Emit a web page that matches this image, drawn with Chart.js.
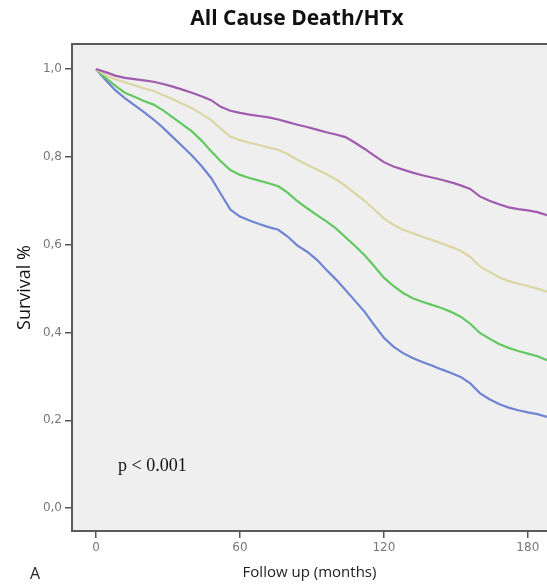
<!DOCTYPE html>
<html>
<head>
<meta charset="utf-8">
<script src="https://cdn.jsdelivr.net/npm/chart.js@4/dist/chart.umd.min.js"></script>
<style>
  body{margin:0;background:#fff;}
  canvas{display:block;}
</style>
</head>
<body>
<canvas id="grafico" width="547" height="588"></canvas>
<script>
// follow up time (months) and survival per group
const meses = [0,4,8,12,16,20,24,28,32,36,40,44,48,52,56,60,64,68,72,76,80,84,88,92,96,100,104,108,112,116,120,124,128,132,136,140,144,148,152,156,160,164,168,172,176,180,184,188];

const roxo = [1.000,0.993,0.985,0.980,0.977,0.974,0.971,0.966,0.960,0.953,0.946,0.938,0.929,0.914,0.905,0.900,0.896,0.893,0.890,0.885,0.879,0.873,0.868,0.862,0.856,0.851,0.845,0.832,0.818,0.803,0.788,0.778,0.771,0.764,0.758,0.753,0.748,0.742,0.735,0.727,0.710,0.700,0.692,0.685,0.681,0.678,0.674,0.667];
const bege = [1.000,0.986,0.977,0.970,0.963,0.956,0.950,0.941,0.931,0.921,0.911,0.898,0.884,0.864,0.846,0.838,0.832,0.827,0.821,0.816,0.806,0.793,0.782,0.772,0.761,0.749,0.734,0.717,0.700,0.680,0.660,0.645,0.634,0.626,0.618,0.611,0.603,0.595,0.586,0.572,0.551,0.538,0.526,0.517,0.511,0.506,0.500,0.493];
const verde = [1.000,0.980,0.962,0.946,0.937,0.927,0.919,0.906,0.890,0.874,0.858,0.837,0.813,0.790,0.770,0.759,0.752,0.746,0.740,0.733,0.718,0.699,0.683,0.668,0.653,0.637,0.617,0.597,0.576,0.551,0.525,0.506,0.490,0.478,0.470,0.463,0.456,0.447,0.436,0.420,0.399,0.386,0.374,0.365,0.358,0.352,0.346,0.337];
const azul = [1.000,0.975,0.952,0.934,0.918,0.902,0.885,0.866,0.845,0.824,0.803,0.779,0.752,0.716,0.680,0.664,0.655,0.647,0.640,0.634,0.618,0.598,0.584,0.566,0.543,0.521,0.497,0.472,0.447,0.417,0.388,0.368,0.353,0.342,0.333,0.325,0.316,0.308,0.299,0.284,0.262,0.248,0.237,0.229,0.223,0.218,0.214,0.208];

const ticksX = [0,60,120,180];
const ticksY = [0,0.2,0.4,0.6,0.8,1.0];

function serie(vals){
  return vals.map((v,i)=>({x:meses[i], y:v}));
}

// fundo cinza, borda de cima e textos soltos
const extras = {
  id:'extras',
  beforeDraw(c){
    const a = c.chartArea, ctx = c.ctx;
    ctx.save();
    ctx.fillStyle = '#efefef';
    ctx.fillRect(a.left, a.top, a.right-a.left, a.bottom-a.top);
    ctx.restore();
  },
  afterDraw(c){
    const a = c.chartArea, ctx = c.ctx;
    ctx.save();
    ctx.strokeStyle = '#5a5a5a';
    ctx.lineWidth = 2;
    ctx.beginPath();
    ctx.moveTo(a.left-1, a.top);
    ctx.lineTo(a.right, a.top);
    ctx.stroke();

    ctx.fillStyle = '#111';
    ctx.font = 'bold 21px "Open Sans"';
    ctx.textAlign = 'center';
    ctx.textBaseline = 'middle';
    ctx.fillText('All Cause Death/HTx', 297, 19);

    ctx.font = '18px "Liberation Serif"';
    ctx.textAlign = 'left';
    ctx.textBaseline = 'alphabetic';
    ctx.fillText('p < 0.001', 118, 471);

    ctx.fillStyle = '#222';
    ctx.font = '16px "Open Sans"';
    ctx.fillText('A', 30, 579);
    ctx.restore();
  }
};

new Chart(document.getElementById('grafico'), {
  type:'line',
  data:{
    datasets:[
      {label:'Grupo 1', data:serie(roxo), borderColor:'#a05cae'},
      {label:'Grupo 2', data:serie(bege), borderColor:'#dbd6a4'},
      {label:'Grupo 3', data:serie(verde), borderColor:'#62c862'},
      {label:'Grupo 4', data:serie(azul), borderColor:'#6f84d2'}
    ]
  },
  options:{
    responsive:false,
    animation:false,
    layout:{padding:{top:44,left:0,right:0,bottom:0}},
    elements:{
      line:{borderWidth:2.2, tension:0},
      point:{radius:0}
    },
    plugins:{legend:{display:false}, tooltip:{enabled:false}},
    scales:{
      x:{
        type:'linear', min:-10, max:188,
        afterBuildTicks(s){ s.ticks = ticksX.map(v=>({value:v})); },
        afterFit(s){ s.height = 57; },
        grid:{drawOnChartArea:false, tickLength:7, color:'#555', lineWidth:1.5},
        border:{display:true, color:'#5a5a5a', width:2},
        ticks:{color:'#777', font:{size:12, family:'"DejaVu Sans"'}, padding:3, maxRotation:0},
        title:{display:true, text:'Follow up (months)', color:'#222', font:{size:15, family:'"Open Sans"'}, padding:{top:0,bottom:6}}
      },
      y:{
        min:-0.052, max:1.057,
        afterBuildTicks(s){ s.ticks = ticksY.map(v=>({value:v})); },
        afterFit(s){ s.width = 72; },
        grid:{drawOnChartArea:false, tickLength:7, color:'#555', lineWidth:1.5},
        border:{display:true, color:'#5a5a5a', width:2},
        ticks:{color:'#777', font:{size:12, family:'"DejaVu Sans"'}, padding:3,
          callback:v=>v.toFixed(1).replace('.', ',')},
        title:{display:true, text:'Survival %', color:'#111', font:{size:18, family:'"Open Sans"'}, padding:{top:14,bottom:0}}
      }
    }
  },
  plugins:[extras]
});
</script>
</body>
</html>
